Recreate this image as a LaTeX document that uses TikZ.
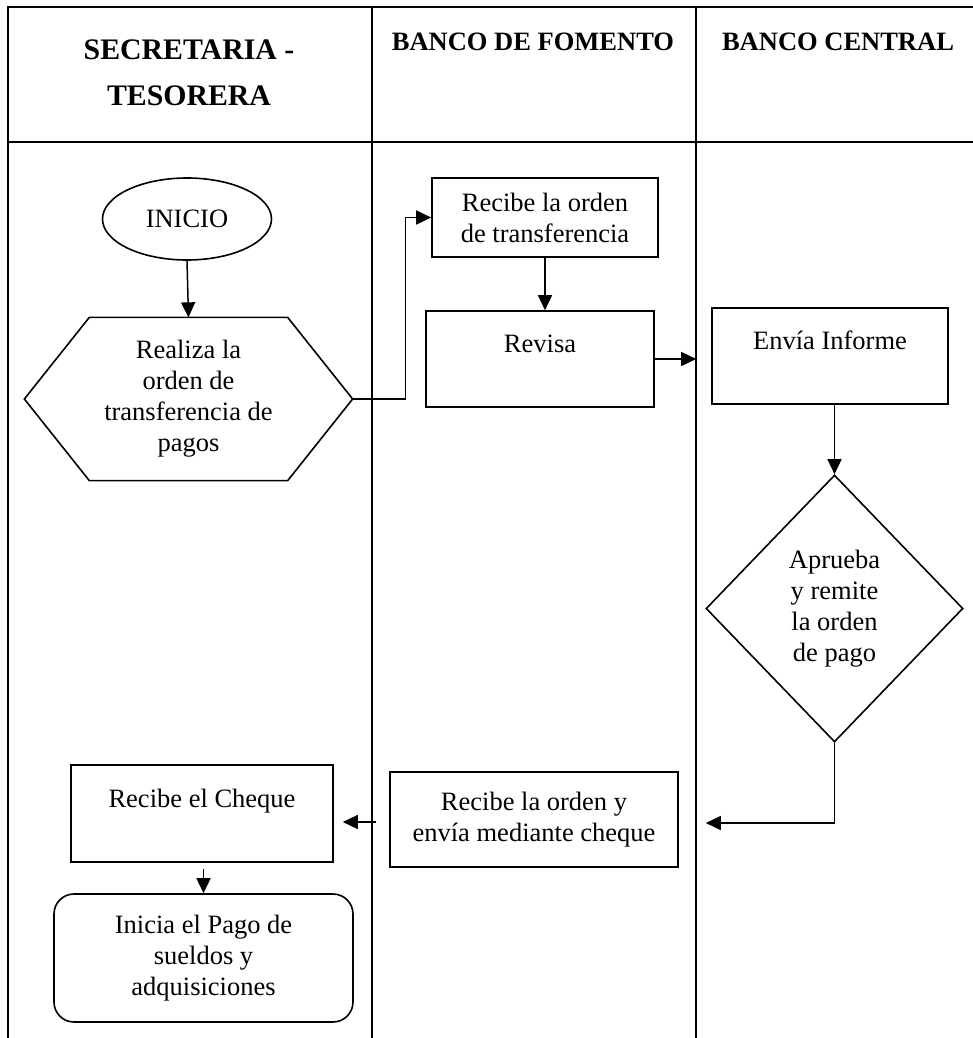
\documentclass[tikz,border=0pt]{standalone}
\usepackage{fontspec}
\setmainfont{Liberation Serif}
\usetikzlibrary{positioning,calc,shapes.geometric,arrows.meta}
\newcommand{\cuerpo}{\fontsize{26.5}{31}\selectfont}
\newcommand{\titulo}{\fontsize{26.5}{45}\selectfont\bfseries}
\newcommand{\titulogrande}{\fontsize{29.8}{46}\selectfont\bfseries}

\begin{document}
\begin{tikzpicture}
		[x=1pt, y=-1pt, line width=1.3pt,
		caja/.style={draw, line width=1.6pt, align=center, font=\cuerpo, inner sep=0pt},
		flecha/.style={line width=1.5pt, -{Triangle[length=15pt,width=14pt]}},
		encabezado/.style={align=center, font=\titulo}]
		\useasboundingbox (0,0) rectangle (973,1038);
		\draw (8,1050) -- (8,7) -- (990,7);
		\draw (8,142) -- (990,142);
		\draw (372,7) -- (372,1050);
		\draw (696,7) -- (696,1050);

		\node[encabezado, font=\titulogrande] (T1) at (189,73) {SECRETARIA -\\TESORERA};
		\node[encabezado] (T2) at (533,42) {BANCO DE FOMENTO};
		\node[encabezado] (T3) at (838,42) {BANCO CENTRAL};

		\node[caja, ellipse, minimum width=169, minimum height=82] (I) at (187,219) {INICIO};
		\node[align=center, font=\cuerpo, inner sep=0pt, minimum width=327, minimum height=162] (H) at (188.5,399) {Realiza la\\orden de\\transferencia de\\pagos};
		\draw[line width=1.6pt] (H.west) -- ($(H.north west)+(65,0)$) -- ($(H.north east)+(-65,0)$) -- (H.east)
			-- ($(H.south east)+(-65,0)$) -- ($(H.south west)+(65,0)$) -- cycle;
		\node[caja, minimum width=226, minimum height=79] (R) at (545,217.5) {Recibe la orden\\de transferencia};
		\node[caja, minimum width=228, minimum height=96] (V) at (540,359) {Revisa\\\mbox{}};
		\node[caja, minimum width=236, minimum height=96] (E) at (830,356) {Envía Informe\\\mbox{}};
		\node[caja, diamond, minimum width=257, minimum height=267] (D) at (834.5,608.5) {Aprueba\\y remite\\la orden\\de pago};
		\node[caja, minimum width=288, minimum height=95] (C) at (534,819.5) {Recibe la orden y\\envía mediante cheque};
		\node[caja, minimum width=262, minimum height=97] (Q) at (202,813.5) {Recibe el Cheque\\\mbox{}};
		\node[caja, rounded corners=20pt, minimum width=299, minimum height=128] (P) at (203.5,958) {Inicia el Pago de\\sueldos y\\adquisiciones};
		\coordinate (c1) at ([xshift=-13pt,yshift=-2.5pt]C.west);

		\draw[flecha] (I.south) -- (H.north);
		\draw[flecha] (H.east) -- ++(53,0) |- (R.west);
		\draw[flecha] (R.south) -- (R.south |- V.north);
		\draw[flecha] (V.east) -- ([xshift=-15pt]E.west |- V.east);
		\draw[flecha] (D.north |- E.south) -- (D.north);
		\draw[flecha] (D.south) |- ([xshift=27pt,yshift=-3.5pt]C.east);
		\draw[flecha, shorten >=9pt] (c1) -- (c1 -| Q.east);
		\draw[flecha, shorten <=6pt] (Q.south -| P.north) -- (P.north);
	\end{tikzpicture}
\end{document}
